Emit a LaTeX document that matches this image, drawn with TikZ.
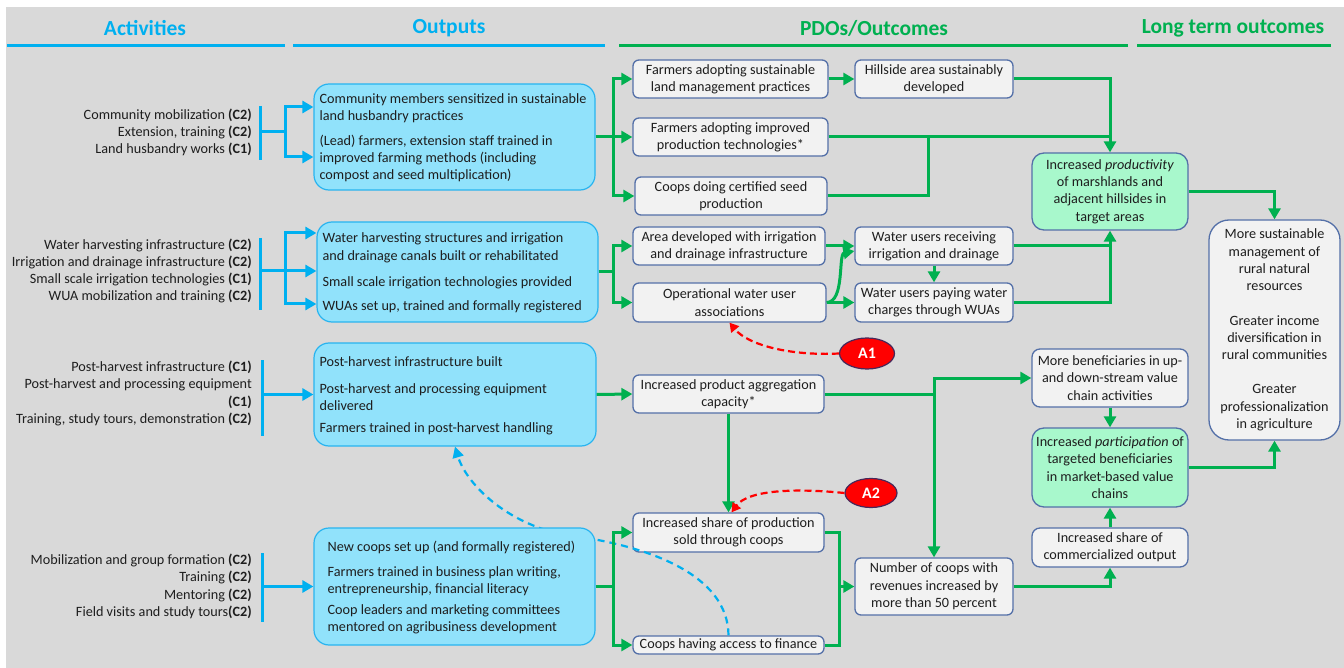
\documentclass[tikz,border=0pt]{standalone}
\usepackage{fontspec}
\setmainfont{Carlito}
\usetikzlibrary{arrows.meta,shapes.geometric}
\definecolor{bgc}{RGB}{217,217,217}
\definecolor{cyanA}{RGB}{0,176,240}
\definecolor{greenA}{RGB}{0,176,80}
\definecolor{outfill}{RGB}{145,226,251}
\definecolor{outdraw}{RGB}{40,180,240}
\definecolor{pdofill}{RGB}{242,242,242}
\definecolor{pdodraw}{RGB}{84,112,168}
\definecolor{gfill}{RGB}{168,248,204}
\definecolor{txt}{RGB}{30,30,30}
\definecolor{redA}{RGB}{255,0,0}
\definecolor{ellb}{RGB}{70,40,90}
\newcommand{\ccode}[1]{\textbf{(#1)}}
\begin{document}
\begin{tikzpicture}[x=1pt,y=-1pt,
  body/.style={font=\fontsize{14.2}{17.3}\selectfont, text=txt},
  outbox/.style={draw=outdraw, fill=outfill, line width=1.2pt, rounded corners=15pt, inner sep=0pt},
  otext/.style={body, align=left, inner sep=0pt, anchor=west, yshift=-1pt},
  pdobox/.style={body, draw=pdodraw, fill=pdofill, line width=1.3pt, rounded corners=6pt, align=center, inner sep=0pt},
  grnbox/.style={pdobox, fill=gfill, rounded corners=12pt},
  actxt/.style={body, align=right, inner sep=0pt, anchor=east},
  hdr/.style={font=\fontsize{21.5}{24}\selectfont\bfseries, inner sep=0pt},
  bline/.style={draw=cyanA, line width=3pt},
  gline/.style={draw=greenA, line width=3pt},
  barrow/.style={bline, -{Triangle[length=11pt,width=12pt]}},
  garrow/.style={gline, -{Triangle[length=11pt,width=12pt]}},
  rdash/.style={draw=redA, line width=2.2pt, dash pattern=on 7pt off 4pt, -{Triangle[length=9pt,width=10pt]}},
  bdash/.style={draw=cyanA, line width=2.2pt, dash pattern=on 7pt off 5pt, -{Triangle[length=11pt,width=11pt]}},
  ell/.style={ellipse, draw=ellb, fill=redA, text=white, line width=1.2pt, inner sep=0pt,
    font=\fontsize{16}{18}\selectfont\bfseries}
]
\useasboundingbox (0,0) rectangle (1344,668);
\fill[bgc] (6,7) rectangle (1344,668);

% headers
\node[hdr, text=cyanA] (h1) at (145,28) {Activities};
\node[hdr, text=cyanA] (h2) at (449,28) {Outputs};
\node[hdr, text=greenA] (h3) at (874,28) {PDOs/Outcomes};
\node[hdr, text=greenA] (h4) at (1233,28) {Long term outcomes};
\draw[bline] (7,46) -- (285,46);
\draw[bline] (293,46) -- (605,46);
\draw[gline] (619,46) -- (1128,46);
\draw[gline] (1137,46) -- (1331,46);

% activities
\node[actxt] (act1) at (252,132.5) {Community mobilization \ccode{C2}\\Extension, training \ccode{C2}\\Land husbandry works \ccode{C1}};
\node[actxt] (act2) at (252,271) {Water harvesting infrastructure \ccode{C2}\\Irrigation and drainage infrastructure \ccode{C2}\\Small scale irrigation technologies \ccode{C1}\\WUA mobilization and training \ccode{C2}};
\node[actxt] (act3) at (252,393.5) {Post-harvest infrastructure \ccode{C1}\\Post-harvest and processing equipment\\\ccode{C1}\\Training, study tours, demonstration \ccode{C2}};
\node[actxt] (act4) at (252,586.5) {Mobilization and group formation \ccode{C2}\\Training \ccode{C2}\\Mentoring \ccode{C2}\\Field visits and study tours\ccode{C2}};

% output boxes
\node[outbox, minimum width=281pt, minimum height=106pt] (o1) at (454.5,137) {};
\node[otext] (o1t) at ([xshift=6pt]o1.west) {Community members sensitized in sustainable\\land husbandry practices\\[7pt](Lead) farmers, extension staff trained in\\improved farming methods (including\\compost and seed multiplication)};
\node[outbox, minimum width=281pt, minimum height=100pt] (o2) at (457.5,272) {};
\node[otext] (o2t) at ([xshift=6pt]o2.west) {Water harvesting structures and irrigation\\and drainage canals built or rehabilitated\\[9pt]Small scale irrigation technologies provided\\[7pt]WUAs set up, trained and formally registered};
\node[outbox, minimum width=282pt, minimum height=103pt] (o3) at (455,394.5) {};
\node[otext] (o3t) at ([xshift=6pt]o3.west) {Post-harvest infrastructure built\\[10pt]Post-harvest and processing equipment\\delivered\\[4pt]Farmers trained in post-harvest handling};

% PDO boxes
\node[pdobox, minimum width=195pt, minimum height=38pt] (p1) at (730.5,79) {Farmers adopting sustainable\\land management practices};
\node[pdobox, minimum width=195pt, minimum height=38pt] (p2) at (730.5,137) {Farmers adopting improved\\production technologies*};
\node[pdobox, minimum width=192pt, minimum height=38pt] (p3) at (731,196) {Coops doing certified seed\\production};
\node[pdobox, minimum width=192pt, minimum height=38pt] (p5) at (729,246) {Area developed with irrigation\\and drainage infrastructure};
\node[pdobox, minimum width=193pt, minimum height=39pt] (p6) at (729.5,302.5) {Operational water user\\associations};
\node[pdobox, minimum width=158pt, minimum height=38pt] (p4) at (934,79) {Hillside area sustainably\\developed};
\node[pdobox, minimum width=158pt, minimum height=38pt] (p7) at (934,246) {Water users receiving\\irrigation and drainage};
\node[pdobox, minimum width=158pt, minimum height=39pt] (p8) at (934,302.5) {Water users paying water\\charges through WUAs};
\node[grnbox, minimum width=156pt, minimum height=77pt] (g1) at (1110,191.5) {Increased \textit{productivity}\\of marshlands and\\adjacent hillsides in\\target areas};
\node[pdobox, rounded corners=20pt, minimum width=131pt, minimum height=220pt] (l1) at (1274.5,330) {More sustainable\\management of\\rural natural\\resources\\[17pt]Greater income\\diversification in\\rural communities\\[17pt]Greater\\professionalization\\in agriculture};
\node[pdobox, minimum width=191pt, minimum height=38pt] (p9) at (728.5,394) {Increased product aggregation\\capacity*};
\node[pdobox, minimum width=191pt, minimum height=39pt] (p10) at (728.5,532.5) {Increased share of production\\sold through coops};
\node[pdobox, minimum width=191pt, minimum height=18pt] (p12) at (728.5,645) {Coops having access to finance};
\node[pdobox, minimum width=158pt, minimum height=57pt] (p11) at (934,586.5) {Number of coops with\\revenues increased by\\more than 50 percent};
\node[pdobox, rounded corners=8pt, minimum width=156pt, minimum height=58pt] (b1) at (1110,378) {More beneficiaries in up-\\and down-stream value\\chain activities};
\node[grnbox, minimum width=156pt, minimum height=79pt] (g2) at (1110,467.5) {Increased \textit{participation} of\\targeted beneficiaries\\in market-based value\\chains};
\node[pdobox, rounded corners=8pt, minimum width=156pt, minimum height=39pt] (c1) at (1110,547.5) {Increased share of\\commercialized output};
\node[ell, minimum width=55pt, minimum height=31pt] (a1) at (867,353.5) {A1};
\node[ell, minimum width=52pt, minimum height=29pt] (a2) at (871,493) {A2};

% dashed blue feedback (passes behind box o4)
\draw[bdash] (p12.north) .. controls (728,575) and (650,545) .. (560,534) .. controls (500,520) and (465,480) .. (o3.south);

\node[outbox, minimum width=281pt, minimum height=117pt] (o4) at (454.5,586.5) {};
\node[otext] (o4t) at ([xshift=14pt]o4.west) {New coops set up (and formally registered)\\[8pt]Farmers trained in business plan writing,\\entrepreneurship, financial literacy\\[3pt]Coop leaders and marketing committees\\mentored on agribusiness development};

% activity bars and blue connectors
\coordinate (bar1) at (260,132); \coordinate (j1) at (285,132);
\draw[bline] (260,106) -- (260,160);
\draw[bline] (bar1) -- (j1);
\draw[barrow] (j1) |- (o1.west |- 0,107);
\draw[barrow] (j1) |- (o1.west |- 0,157);
\coordinate (bar2) at (260,271); \coordinate (j2) at (285,271);
\draw[bline] (260,238) -- (260,310);
\draw[bline] (bar2) -- (j2);
\draw[barrow] (j2) |- (o2.west |- 0,233);
\draw[barrow] (j2) -- (o2.west |- 0,271);
\draw[barrow] (j2) |- (o2.west |- 0,304);
\coordinate (bar3) at (262,394.5);
\draw[bline] (262,360) -- (262,436);
\draw[barrow] (bar3) -- (o3.west);
\coordinate (bar4) at (262,586.5);
\draw[bline] (262,553) -- (262,622);
\draw[barrow] (bar4) -- (o4.west);

% green connectors from outputs
\coordinate (k1) at (613,137);
\draw[gline] (o1.east) -- (k1);
\draw[garrow] (k1) |- (p1.west);
\draw[garrow] (k1) -- (p2.west);
\draw[garrow] (k1) |- (p3.west);
\coordinate (k2) at (613,272);
\draw[gline] (o2.east) -- (k2);
\draw[garrow] (k2) |- (p5.west);
\draw[garrow] (k2) |- (p6.west);
\draw[garrow] (o3.east) -- (p9.west);
\coordinate (k4) at (613,586.5);
\draw[gline] (o4.east) -- (k4);
\draw[garrow] (k4) |- (p10.west);
\draw[garrow] (k4) |- (p12.west);

% PDO connectors
\draw[garrow] (p1) -- (p4);
\coordinate (m1) at (1110,137);
\coordinate (m2) at (928,137);
\draw[gline] (p4.east) -| (m1);
\draw[gline] (p3.east) -| (m2);
\draw[garrow] (p2.east) -| (g1.north);
\draw[garrow] (p5) -- (p7);
\draw[garrow] (p6.east) -- (p8.west);
\draw[garrow] (p6.east) .. controls (845,302) and (838,254) .. (p7.west |- 0,251);
\draw[garrow] (p7) -- (p8);
\coordinate (m3) at (1110,246);
\draw[gline] (p8.east) -| (m3);
\draw[garrow] (p7.east) -| (g1.south);
\draw[garrow] (g1.east) -| (l1.north);

\draw[garrow] (p9.south) -- (p10.north);
\coordinate (m4) at (934,394);
\draw[gline] (p9.east) -- (m4);
\draw[garrow] (m4) |- (b1.west);
\draw[garrow] (m4) -- (p11.north);
\coordinate (m5) at (839,586.5);
\draw[gline] (p10.east) -| (m5);
\draw[gline] (p12.east) -| (m5);
\draw[garrow] (m5) -- (p11.west);
\draw[garrow] (p11.east) -| (c1.south);
\draw[garrow] (c1) -- (g2);
\draw[garrow] (b1) -- (g2);
\draw[garrow] (g2.east) -| (l1.south);

% assumptions
\draw[rdash] (a1.west) .. controls (790,356) and (748,345) .. (p6.south);
\draw[rdash] (a2.west) .. controls (795,488) and (748,490) .. ([xshift=3pt]p10.north);
\end{tikzpicture}
\end{document}
